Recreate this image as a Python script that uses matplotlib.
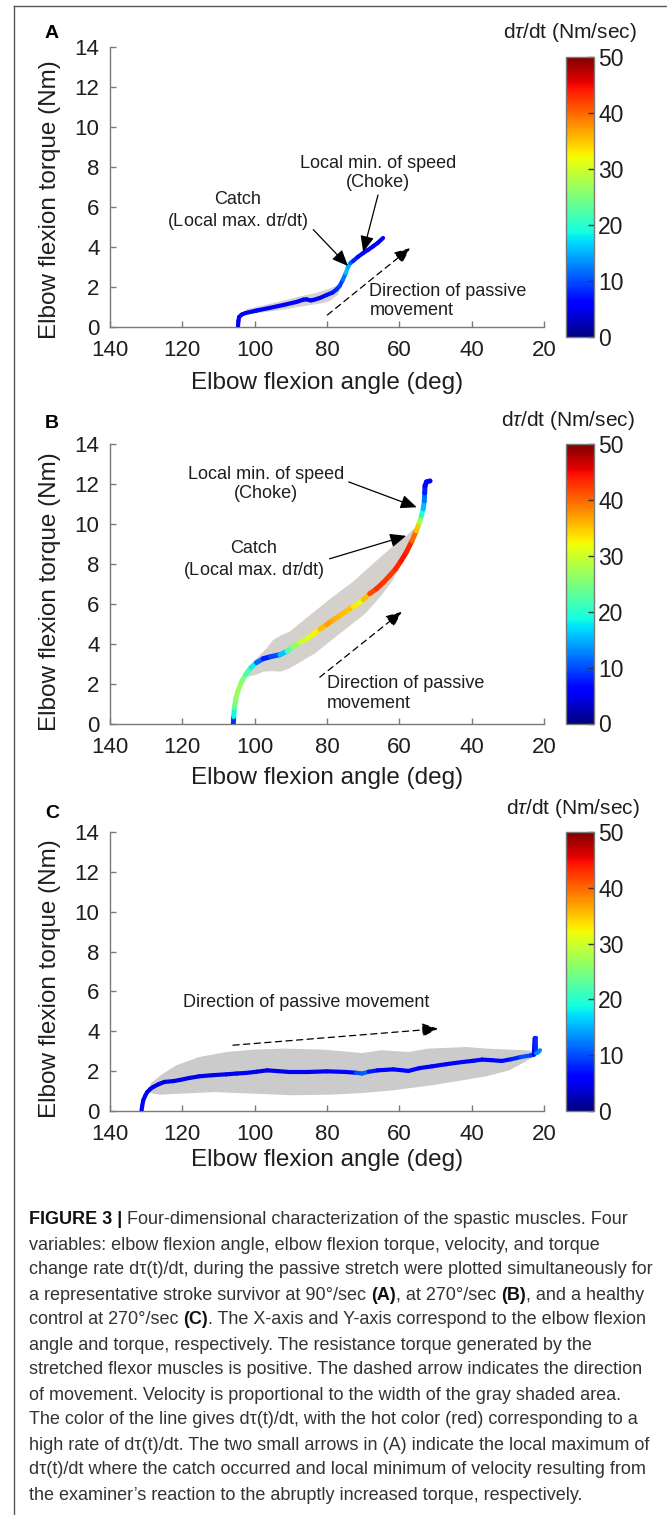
import numpy as np
import matplotlib
matplotlib.use("Agg")
import matplotlib.pyplot as plt
from matplotlib.collections import LineCollection
from matplotlib.patches import FancyArrowPatch
from matplotlib.lines import Line2D
from matplotlib.colors import Normalize
from matplotlib.cm import ScalarMappable

plt.rcParams['font.family'] = ['Liberation Sans', 'DejaVu Sans']
plt.rcParams['mathtext.fontset'] = 'custom'
plt.rcParams['mathtext.rm'] = 'Liberation Sans'
plt.rcParams['mathtext.it'] = 'Liberation Sans:italic'

# ---------------- data ----------------
x_ticks = [140, 120, 100, 80, 60, 40, 20]
y_ticks = [0, 2, 4, 6, 8, 10, 12, 14]
cbar_ticks = [0, 10, 20, 30, 40, 50]

# Panel A: stroke survivor, 90 deg/sec
a_angle = [104.6, 104.5, 104.3, 103.6, 102.5, 99.5, 96.0, 92.1, 88.5, 86.5, 85.7, 84.5, 83.8, 82.0, 80.1,
           78.5, 77.4, 76.5, 75.6, 74.8, 74.2, 73.5, 72.8, 71.5, 70.0, 68.7, 67.3, 66.0, 64.5]
a_torque = [0.05, 0.3, 0.5, 0.62, 0.7, 0.82, 0.95, 1.1, 1.25, 1.37, 1.38, 1.33, 1.35, 1.45, 1.6,
            1.72, 1.87, 2.05, 2.37, 2.7, 3.0, 3.2, 3.3, 3.5, 3.7, 3.85, 4.03, 4.2, 4.45]
a_dtau = [5, 5, 6, 6, 6, 6, 6, 6, 6, 6, 5, 6, 6, 6, 7,
          7, 8, 9, 10, 14, 17, 13, 9, 7, 6, 6, 6, 6, 6]
a_band_up_angle = [103.3, 102.2, 96.7, 92.0, 87.5, 83.0, 80.1, 77.5, 76.0, 75.2]
a_band_up_torque = [0.65, 0.9, 1.12, 1.32, 1.53, 1.7, 1.87, 2.05, 2.25, 2.45]
a_band_lo_angle = [103.3, 102.2, 97.0, 92.1, 88.0, 83.8, 81.0, 79.2, 77.0, 75.2]
a_band_lo_torque = [0.65, 0.62, 0.75, 0.87, 1.0, 1.12, 1.2, 1.3, 1.6, 2.45]

# Panel B: stroke survivor, 270 deg/sec
b_angle = [105.9, 105.8, 105.6, 105.2, 104.6, 103.7, 102.5, 101.0, 99.5, 97.6, 95.5, 93.0, 91.0, 89.4,
           87.5, 85.5, 84.0, 82.0, 80.1, 78.3, 76.5, 74.5, 72.8, 71.0, 70.0, 68.2, 66.3, 64.5,
           62.7, 61.0, 59.5, 58.0, 56.5, 55.3, 54.5, 53.9, 53.4, 53.1, 53.0, 52.9, 52.5, 51.5]
b_torque = [0.0, 0.35, 0.8, 1.25, 1.65, 2.05, 2.45, 2.8, 3.05, 3.25, 3.35, 3.45, 3.62, 3.84,
            4.05, 4.25, 4.45, 4.72, 4.95, 5.19, 5.4, 5.65, 5.86, 6.05, 6.2, 6.5, 6.75, 7.05,
            7.4, 7.75, 8.15, 8.6, 9.15, 9.65, 10.05, 10.4, 10.75, 11.15, 11.55, 11.9, 12.1, 12.15]
b_dtau = [3, 14, 23, 26, 27, 27, 24, 20, 16, 7, 8, 12, 20, 25,
          28, 31, 31, 34, 37, 37, 35, 36, 34, 32, 31, 40, 43, 43,
          42, 43, 44, 45, 42, 38, 32, 22, 17, 14, 10, 6, 5, 6]
b_band_up_angle = [104.3, 102.2, 99.5, 96.7, 94.9, 92.6, 90.3, 87.5, 82.9, 78.3, 72.8, 67.3, 61.7, 58.0, 55.2, 53.4]
b_band_up_torque = [2.1, 2.75, 3.25, 3.76, 4.18, 4.43, 4.6, 5.02, 5.69, 6.36, 7.1, 8.0, 8.89, 9.4, 9.9, 10.57]
b_band_lo_angle = [104.3, 102.2, 99.5, 97.5, 95.0, 92.8, 90.5, 88.1, 85.8, 83.4, 78.7, 74.0, 69.3, 65.2, 61.7,
                   58.7, 55.8, 54.3, 53.4]
b_band_lo_torque = [2.1, 2.32, 2.45, 2.6, 2.62, 2.6, 2.75, 3.0, 3.25, 3.5, 4.18, 4.85, 5.52, 6.36, 7.2,
                    8.22, 9.23, 9.95, 10.57]

# Panel C: healthy control, 270 deg/sec
c_angle = [131.3, 131.1, 130.8, 130.3, 129.7, 128.9, 128.1, 126.5, 124.9, 122.5, 120.6, 118.0, 115.3, 111.5,
           107.8, 105.0, 102.4, 99.5, 96.5, 93.5, 90.6, 85.0, 80.0, 75.0, 72.0, 70.3, 68.5, 66.0,
           61.7, 57.5, 54.5, 51.0, 47.0, 42.5, 39.5, 37.1, 34.5, 31.7, 29.0, 26.4, 23.7, 22.8,
           22.6, 22.3, 22.2, 21.6, 21.1]
c_torque = [0.0, 0.25, 0.54, 0.75, 0.95, 1.1, 1.2, 1.35, 1.46, 1.5, 1.56, 1.66, 1.74, 1.8,
            1.84, 1.88, 1.91, 1.97, 2.04, 2.0, 1.96, 1.96, 1.99, 1.96, 1.92, 1.88, 1.97, 2.04,
            2.09, 2.01, 2.15, 2.24, 2.35, 2.46, 2.52, 2.58, 2.55, 2.51, 2.6, 2.71, 2.79, 2.82,
            3.65, 3.65, 2.9, 2.95, 3.05]
c_dtau = [6, 6, 6, 6, 6, 5, 5, 5, 5, 5, 5, 5, 5, 5,
          5, 5, 5, 5, 4, 5, 5, 5, 5, 6, 7, 13, 9, 6,
          5, 7, 6, 5, 6, 6, 6, 7, 6, 6, 7, 9, 11, 8,
          5, 5, 12, 14, 12]
c_band_up_angle = [129.3, 128.7, 126.0, 121.7, 115.3, 107.8, 100.3, 91.7, 81.0, 70.3, 64.9, 57.5, 52.1,
                   41.4, 36.0, 29.6, 25.3, 22.3, 21.5]
c_band_up_torque = [1.0, 1.39, 1.79, 2.29, 2.71, 2.96, 3.08, 3.13, 3.08, 2.91, 3.05, 2.96, 3.13,
                    3.21, 3.13, 3.08, 3.05, 3.0, 2.9]
c_band_lo_angle = [129.3, 128.1, 126.0, 111.0, 100.3, 89.6, 78.9, 70.3, 61.7, 51.0, 42.5, 36.0, 29.6, 25.3, 22.3, 21.5]
c_band_lo_torque = [0.95, 0.87, 0.82, 0.95, 0.87, 0.79, 0.82, 0.9, 1.04, 1.29, 1.54, 1.74, 2.04, 2.46, 2.8, 2.9]

xlabel_text = "Elbow flexion angle (deg)"
ylabel_text = "Elbow flexion torque (Nm)"
cbar_title = r"d$\tau$/dt (Nm/sec)"

caption_lines = [
    [("FIGURE 3 |", True), (" Four-dimensional characterization of the spastic muscles. Four", False)],
    [("variables: elbow flexion angle, elbow flexion torque, velocity, and torque", False)],
    [("change rate dτ(t)/dt, during the passive stretch were plotted simultaneously for", False)],
    [("a representative stroke survivor at 90°/sec ", False), ("(A)", True), (", at 270°/sec ", False),
     ("(B)", True), (", and a healthy", False)],
    [("control at 270°/sec ", False), ("(C)", True),
     (". The X-axis and Y-axis correspond to the elbow flexion", False)],
    [("angle and torque, respectively. The resistance torque generated by the", False)],
    [("stretched flexor muscles is positive. The dashed arrow indicates the direction", False)],
    [("of movement. Velocity is proportional to the width of the gray shaded area.", False)],
    [("The color of the line gives dτ(t)/dt, with the hot color (red) corresponding to a", False)],
    [("high rate of dτ(t)/dt. The two small arrows in (A) indicate the local maximum of", False)],
    [("dτ(t)/dt where the catch occurred and local minimum of velocity resulting from", False)],
    [("the examiner’s reaction to the abruptly increased torque, respectively.", False)],
]

# ---------------- figure ----------------
W, H = 667, 1515
fig = plt.figure(figsize=(W / 100, H / 100), dpi=100)
fig.patch.set_facecolor('white')

AX_GRAY = '#7a7a7a'
TXT = '#1e1e1e'
cmap = plt.get_cmap('jet')
norm = Normalize(0, 50)


def rect(left, top, right, bottom):
    return [left / W, 1 - bottom / H, (right - left) / W, (bottom - top) / H]


def fx(x):
    return x / W


def fy(y):
    return 1 - y / H


def arrow(ax, start, end, dashed=False):
    style = '-|>,head_length=0.75,head_width=0.32'
    p = FancyArrowPatch(start, end, arrowstyle=style, mutation_scale=13, color='black',
                        lw=0.9, linestyle=(0, (5, 3.5)) if dashed else '-', shrinkA=0, shrinkB=0,
                        zorder=5)
    ax.add_patch(p)


panels = [
    dict(label='A', top=47, bottom=327, cb_top=57, cb_bottom=337, cb_title_y=33, cb_title_x=570,
         label_y=33, xlab_y=383, ylab_y=200,
         angle=a_angle, torque=a_torque, dtau=a_dtau, lw=3.0,
         band=(a_band_up_angle, a_band_up_torque, a_band_lo_angle, a_band_lo_torque), band_color='#d6d2cd'),
    dict(label='B', top=444, bottom=723.5, cb_top=444, cb_bottom=723.5, cb_title_y=420, cb_title_x=568,
         label_y=423, xlab_y=778, ylab_y=592,
         angle=b_angle, torque=b_torque, dtau=b_dtau, lw=3.6,
         band=(b_band_up_angle, b_band_up_torque, b_band_lo_angle, b_band_lo_torque), band_color='#d4d1cc'),
    dict(label='C', top=832, bottom=1111, cb_top=832, cb_bottom=1111, cb_title_y=809, cb_title_x=573,
         label_y=813, xlab_y=1160, ylab_y=979,
         angle=c_angle, torque=c_torque, dtau=c_dtau, lw=3.0,
         band=(c_band_up_angle, c_band_up_torque, c_band_lo_angle, c_band_lo_torque), band_color='#cbcbcb'),
]

axes = []
for p in panels:
    ax = fig.add_axes(rect(110, p['top'], 544, p['bottom']))
    ax.set_xlim(140, 20)
    ax.set_ylim(0, 14)
    ax.set_xticks(x_ticks)
    ax.set_yticks(y_ticks)
    for s in ['top', 'right']:
        ax.spines[s].set_visible(False)
    for s in ['left', 'bottom']:
        ax.spines[s].set_color(AX_GRAY)
        ax.spines[s].set_linewidth(1.0)
    ax.tick_params(direction='in', length=4, width=1, color=AX_GRAY, labelsize=16,
                   labelcolor=TXT)
    ax.tick_params(axis='x', pad=9.5)
    ax.tick_params(axis='y', pad=7.5)
    ax.set_facecolor('none')

    up_a, up_t, lo_a, lo_t = p['band']
    ax.fill(list(up_a) + list(lo_a)[::-1], list(up_t) + list(lo_t)[::-1],
            color=p['band_color'], lw=0, zorder=1)

    pts = np.column_stack([p['angle'], p['torque']])
    segs = np.stack([pts[:-1], pts[1:]], axis=1)
    d = np.asarray(p['dtau'], dtype=float)
    vals = (d[:-1] + d[1:]) / 2
    lc = LineCollection(segs, cmap=cmap, norm=norm, linewidths=p['lw'],
                        capstyle='round', joinstyle='round', zorder=3)
    lc.set_array(vals)
    ax.add_collection(lc)

    # colorbar
    cax = fig.add_axes(rect(566, p['cb_top'], 594, p['cb_bottom']))
    cb = fig.colorbar(ScalarMappable(norm=norm, cmap=cmap), cax=cax, ticks=cbar_ticks)
    cb.outline.set_edgecolor(AX_GRAY)
    cb.outline.set_linewidth(1.0)
    cax.tick_params(direction='in', length=4, width=1, color='#333333', labelsize=16.5,
                    labelcolor=TXT, pad=3)

    fig.text(fx(p['cb_title_x']), fy(p['cb_title_y']), cbar_title, fontsize=15, color=TXT,
             ha='center', va='center')
    fig.text(fx(52), fy(p['label_y']), p['label'], fontsize=14, fontweight='bold', color='black',
             ha='center', va='center')
    fig.text(fx(327), fy(p['xlab_y']), xlabel_text, fontsize=17.5, color=TXT, ha='center', va='center')
    fig.text(fx(50), fy(p['ylab_y']), ylabel_text, fontsize=17.5, color=TXT, ha='center', va='center',
             rotation=90)
    axes.append(ax)

ann_kw = dict(fontsize=13, color=TXT, zorder=6)
axA, axB, axC = axes
# Panel A annotations
axA.text(104.6, 5.78, "Catch\n(Local max. d$\\tau$/dt)", ha='center', va='center', multialignment='center', **ann_kw)
arrow(axA, (83.8, 4.87), (74.2, 3.05))
axA.text(65.8, 7.7, "Local min. of speed\n(Choke)", ha='center', va='center', multialignment='center', **ann_kw)
arrow(axA, (65.9, 6.6), (70.0, 3.75))
arrow(axA, (79.9, 0.6), (57.0, 3.95), dashed=True)
axA.text(68.3, 1.3, "Direction of passive\nmovement", ha='left', va='center', multialignment='left', **ann_kw)

# Panel B annotations
axB.text(96.9, 12.0, "Local min. of speed\n(Choke)", ha='center', va='center', multialignment='center', **ann_kw)
arrow(axB, (74.0, 12.1), (55.2, 10.83))
axB.text(100.2, 8.15, "Catch\n(Local max. d$\\tau$/dt)", ha='center', va='center', multialignment='center', **ann_kw)
arrow(axB, (79.3, 8.25), (58.1, 9.4))
arrow(axB, (82.0, 2.32), (59.3, 5.6), dashed=True)
axB.text(80.1, 1.5, "Direction of passive\nmovement", ha='left', va='center', multialignment='left', **ann_kw)

# Panel C annotations
axC.text(85.7, 5.44, "Direction of passive movement", ha='center', va='center', **ann_kw)
arrow(axC, (106.0, 3.3), (49.3, 4.13), dashed=True)

# frame lines (top and left)
fig.add_artist(Line2D([fx(14), fx(667)], [fy(6), fy(6)], color='#555555', lw=1.0))
fig.add_artist(Line2D([fx(14), fx(14)], [fy(6), fy(1515)], color='#555555', lw=1.0))

# caption
renderer = fig.canvas.get_renderer()


def advance(s, bold, size):
    t1 = fig.text(0, 0, '|' + s + '|', fontsize=size, fontweight='bold' if bold else 'normal')
    t2 = fig.text(0, 0, '||', fontsize=size, fontweight='bold' if bold else 'normal')
    w = t1.get_window_extent(renderer).width - t2.get_window_extent(renderer).width
    t1.remove()
    t2.remove()
    return w


ref_line = caption_lines[2][0][0]
w10 = advance(ref_line, False, 10)
cap_size = 10 * 624 / w10

for i, line in enumerate(caption_lines):
    x = 29.0
    y = 1220 + 25 * i
    for s, bold in line:
        fig.text(fx(x), fy(y), s, fontsize=cap_size, fontweight='bold' if bold else 'normal',
                 color='#111111' if bold else '#333333', ha='left', va='center')
        x += advance(s, bold, cap_size)

fig.savefig('out.png', dpi=100)
